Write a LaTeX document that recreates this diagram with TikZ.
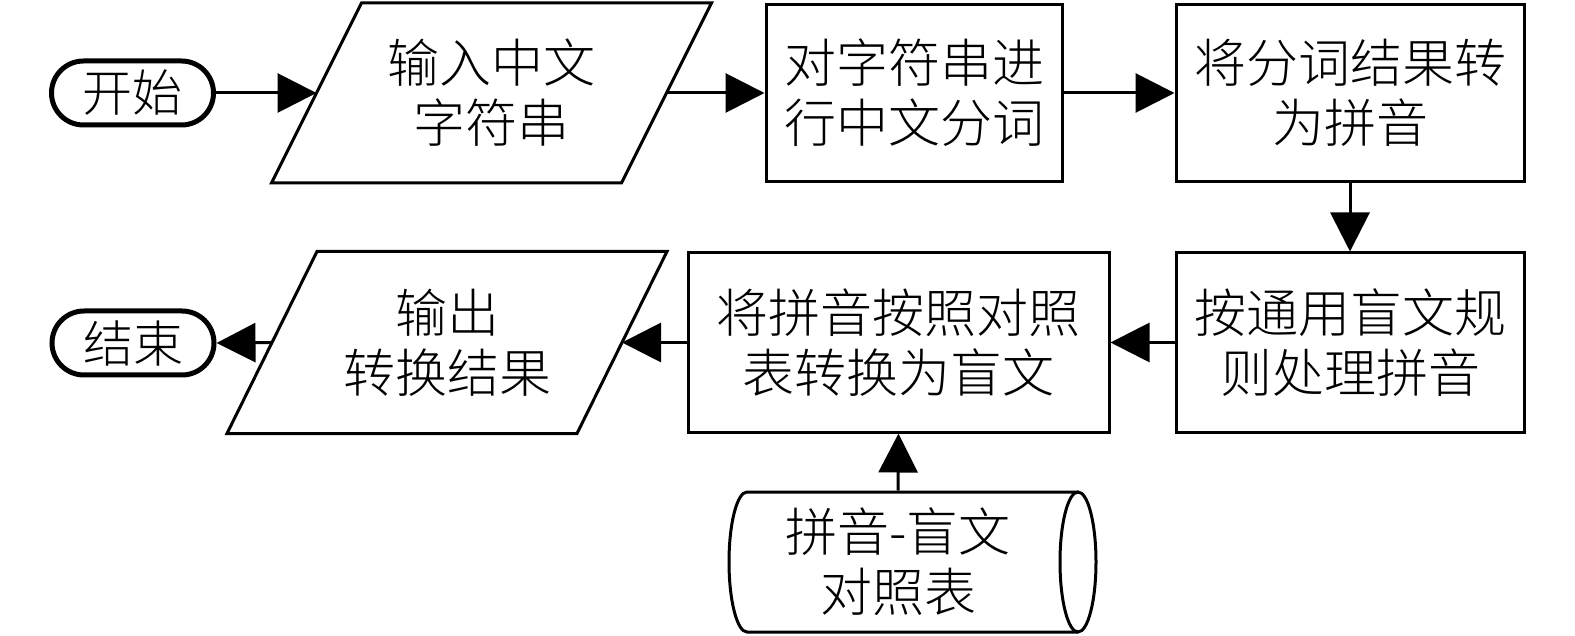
\documentclass[tikz,border=0pt]{standalone}
\usepackage{fontspec}
\newfontfamily\cjk{Noto Sans CJK SC}[UprightFont={* Light}]
\usetikzlibrary{arrows.meta,calc}
\begin{document}
\begin{tikzpicture}[x=1pt,y=-1pt,
  line/.style={line width=3pt},
  box/.style={draw, line width=3pt, minimum height=177pt, inner sep=0pt, align=center,
    font=\cjk\fontsize{52}{60}\selectfont},
  ptxt/.style={line width=3pt, minimum height=177pt, inner sep=0pt, align=center,
    font=\cjk\fontsize{52}{60}\selectfont},
  term/.style={draw, line width=5pt, rounded corners=32pt, minimum width=162pt,
    minimum height=64pt, inner sep=0pt, font=\cjk\fontsize{50}{60}\selectfont},
  arr/.style={line width=3pt, -{Triangle[length=39pt,width=39pt]}}]
\useasboundingbox (0,0) rectangle (1575,636);

% top row
\node[term] (start) at (132.5,93) {开始};
\node[ptxt, minimum width=347pt] (in) at (491.5,93) {输入中文\\字符串};
\draw[line] ($(in.north west)+(45,0)$) -- ($(in.north east)+(45,0)$)
  -- ($(in.south east)+(-45,0)$) -- ($(in.south west)+(-45,0)$) -- cycle;
\node[box, minimum width=296pt] (b2) at (914,93) {对字符串进\\行中文分词};
\node[box, minimum width=348pt] (b3) at (1350,93) {将分词结果转\\为拼音};

% second row
\node[box, minimum width=348pt, minimum height=179pt] (b4) at (1350,342.5) {按通用盲文规\\则处理拼音};
\node[box, minimum width=421pt, minimum height=179pt] (b5) at (898.5,342.5) {将拼音按照对照\\表转换为盲文};
\node[ptxt, minimum width=347pt, minimum height=179pt] (out) at (447,342.5) {输出\\转换结果};
\draw[line] ($(out.north west)+(45,0)$) -- ($(out.north east)+(45,0)$)
  -- ($(out.south east)+(-45,0)$) -- ($(out.south west)+(-45,0)$) -- cycle;
\node[term] (end) at (133,343) {结束};

% database
\node[ptxt, minimum width=300pt, minimum height=140pt] (cyl) at (898,562) {拼音-盲文\\对照表};
\draw[line] (1078,562) ellipse [x radius=18pt, y radius=70pt];
\draw[line] (1078,492) -- (747,492) arc[start angle=90, end angle=270, x radius=18pt, y radius=70pt] -- (1078,632);

% connectors
\draw[arr] (start.east) -- (in.west);
\draw[arr] (in.east) -- (b2.west);
\draw[arr] (b2.east) -- (b3.west);
\draw[arr] (b3.south) -- (b4.north);
\draw[arr] (b4.west) -- (b5.east);
\draw[arr] (b5.west) -- (out.east);
\draw[arr] (out.west) -- (end.east);
\draw[arr] (cyl.north) -- (b5.south);
\end{tikzpicture}
\end{document}
